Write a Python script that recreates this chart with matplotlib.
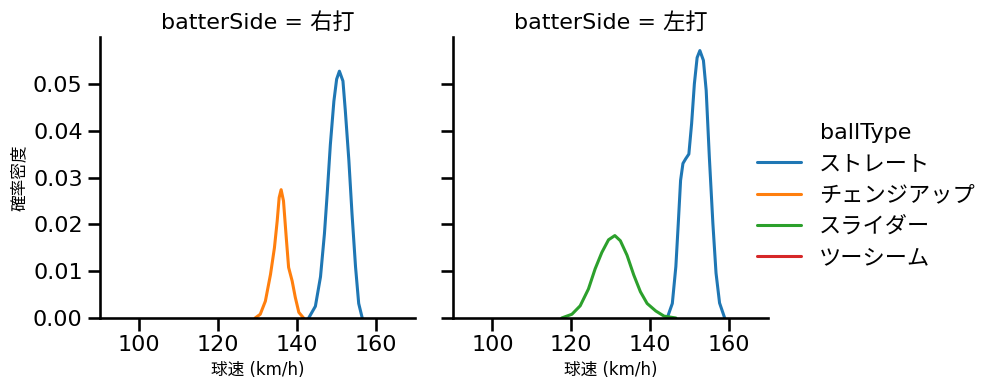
import matplotlib
matplotlib.use("Agg")
import matplotlib.pyplot as plt
from matplotlib.lines import Line2D
import seaborn as sns

sns.set_theme(context="talk", style="ticks")
plt.rcParams['font.family'] = ['DejaVu Sans', 'Noto Sans CJK JP']
plt.rcParams.update({"text.color": "black", "axes.labelcolor": "black",
                     "axes.edgecolor": "black", "xtick.color": "black",
                     "ytick.color": "black"})

sides = ["右打", "左打"]
ball_types = ["ストレート", "チェンジアップ", "スライダー", "ツーシーム"]
colors = ["#1f77b4", "#ff7f0e", "#2ca02c", "#d62728"]

# 右打 / ストレート
r_fast_x = [143.0, 144.7, 146.0, 147.0, 147.7, 148.5, 149.4, 150.1, 150.8, 151.7,
            152.3, 153.2, 154.0, 154.9, 155.7, 156.6]
r_fast_y = [0.0, 0.0025, 0.0088, 0.0180, 0.0265, 0.0370, 0.0463, 0.0510, 0.0527, 0.0506,
            0.0443, 0.0337, 0.0223, 0.0109, 0.0031, 0.0]
# 右打 / チェンジアップ
r_chg_x = [129.4, 130.7, 132.0, 133.3, 134.3, 135.0, 135.5, 136.0, 136.6, 137.3,
           137.9, 138.8, 139.6, 140.5, 141.7]
r_chg_y = [0.0, 0.0008, 0.0036, 0.0093, 0.0150, 0.0207, 0.0257, 0.0274, 0.0250, 0.0172,
           0.0108, 0.0079, 0.0044, 0.0012, 0.0]
# 左打 / ストレート
l_fast_x = [144.4, 145.7, 146.6, 147.2, 147.8, 148.4, 149.1, 149.9, 150.6, 151.3,
            152.0, 152.7, 153.6, 154.3, 155.1, 156.0, 156.8, 157.7, 159.0]
l_fast_y = [0.0, 0.0031, 0.0110, 0.0200, 0.0294, 0.0330, 0.0340, 0.0350, 0.0415, 0.0500,
            0.0556, 0.0571, 0.0550, 0.0486, 0.0344, 0.0202, 0.0096, 0.0032, 0.0]
# 左打 / スライダー
l_sld_x = [117.6, 120.2, 122.3, 124.4, 126.1, 127.8, 129.5, 131.1, 132.5, 134.2,
           135.9, 137.6, 139.3, 141.5, 143.6, 146.6]
l_sld_y = [0.0, 0.0008, 0.0026, 0.0062, 0.0105, 0.0140, 0.0167, 0.0176, 0.0165, 0.0134,
           0.0092, 0.0056, 0.0031, 0.0015, 0.0004, 0.0]

curves = {
    "右打": {"ストレート": (r_fast_x, r_fast_y), "チェンジアップ": (r_chg_x, r_chg_y)},
    "左打": {"ストレート": (l_fast_x, l_fast_y), "スライダー": (l_sld_x, l_sld_y)},
}

fig = plt.figure(figsize=(9.99, 3.91), dpi=100)
ax1 = fig.add_axes([100 / 999, 73 / 391, 315 / 999, 281 / 391])
ax2 = fig.add_axes([453 / 999, 73 / 391, 315 / 999, 281 / 391], sharey=ax1)

for ax, side in zip([ax1, ax2], sides):
    for bt, c in zip(ball_types, colors):
        if bt in curves[side]:
            xs, ys = curves[side][bt]
            ax.plot(xs, ys, color=c, lw=2.2, solid_joinstyle="round")
    ax.set_xlim(90, 170)
    ax.set_ylim(0, 0.06)
    ax.set_xticks([100, 120, 140, 160])
    ax.set_title(f"batterSide = {side}", fontsize=16)
    ax.set_xlabel("球速 (km/h)", fontsize=12)
    ax.tick_params(labelsize=16)
    sns.despine(ax=ax)

ax1.set_yticks([0.0, 0.01, 0.02, 0.03, 0.04, 0.05])
ax1.set_yticklabels(["0.00", "0.01", "0.02", "0.03", "0.04", "0.05"])
ax1.set_ylabel("確率密度", fontsize=12)
ax2.tick_params(labelleft=False)

handles = [Line2D([], [], color=c, lw=2.2) for c in colors]
leg = fig.legend(handles, ball_types, title="ballType", loc="center left",
                 bbox_to_anchor=(737 / 999, 0.5), frameon=False, fontsize=16,
                 title_fontsize=16, handlelength=2.0)

fig.savefig("out.png", dpi=100)
